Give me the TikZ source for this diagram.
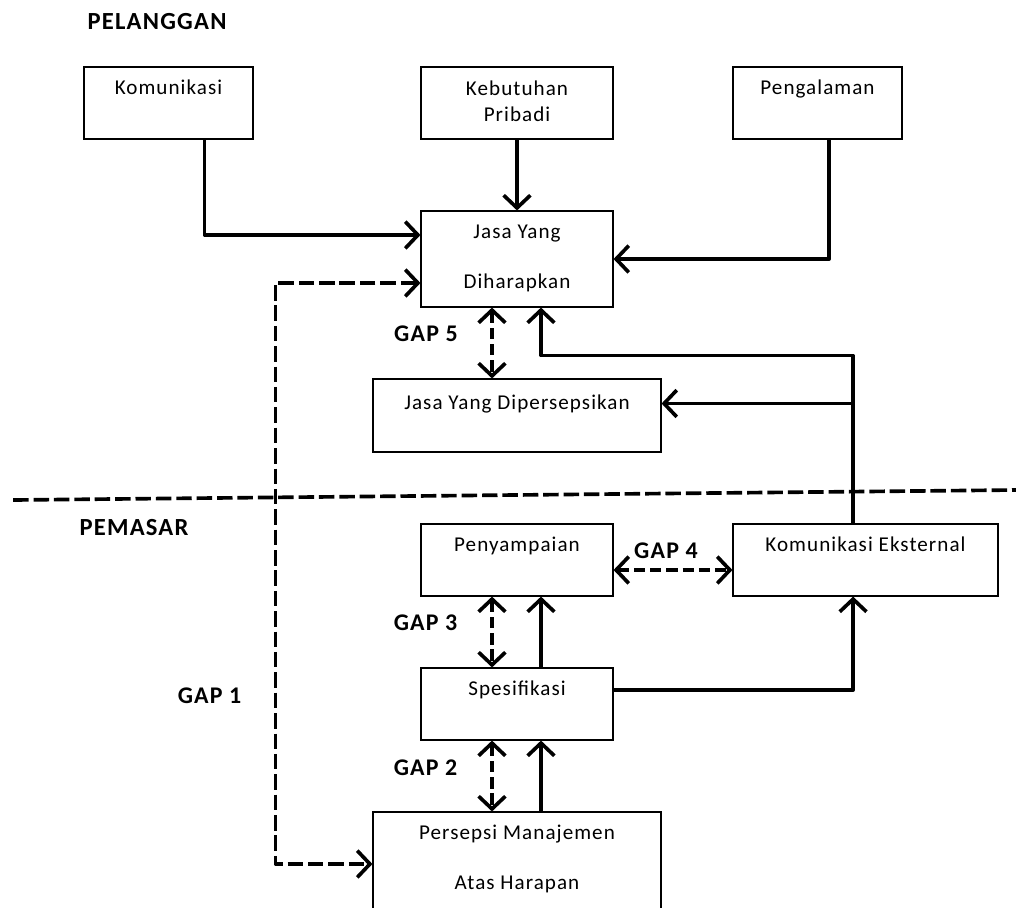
\documentclass[tikz,border=0pt]{standalone}
\usepackage{fontspec}
\setmainfont{Carlito}[LetterSpace=5]
\usepackage{tikz}
\usetikzlibrary{arrows.meta}

\tikzset{
  box/.style={draw,line width=0.8pt,inner sep=0pt,minimum height=1.8cm},
  boxtext/.style={anchor=base,align=center,inner sep=0pt,font=\fontsize{15}{18.5}\selectfont},
  gaplabel/.style={inner sep=0pt,font=\fontsize{17}{20}\selectfont\bfseries},
  arr/.style={line width=2.6pt,line join=round,-{Straight Barb[length=9pt,width=19pt]}},
  dasharr/.style={arr,dash pattern=on 8pt off 3.5pt,{Straight Barb[length=9pt,width=19pt]}-{Straight Barb[length=9pt,width=19pt]}},
}

\begin{document}
\begin{tikzpicture}
\useasboundingbox (0,0) rectangle (25.4,-22.675);
\node[gaplabel,font=\fontsize{17.5}{20}\selectfont\bfseries] (pelanggan) at (3.925,-0.55) {PELANGGAN};
\node[gaplabel,font=\fontsize{17.5}{20}\selectfont\bfseries] (pemasar) at (3.35,-13.2) {PEMASAR};

% kotak pelanggan
\node[box,minimum width=4.225cm] (kom) at (4.2125,-2.575) {};
\node[box,minimum width=4.8cm] (keb) at (12.925,-2.575) {};
\node[box,minimum width=4.225cm] (pen) at (20.4375,-2.575) {};
\node[box,minimum width=4.8cm,minimum height=2.4cm] (harap) at (12.925,-6.475) {};
\node[box,minimum width=7.2cm,minimum height=1.825cm] (dipersepsi) at (12.925,-10.3875) {};
\node[boxtext] (komT) at ([yshift=-0.7cm]kom.north) {Komunikasi};
\node[boxtext] (kebT) at ([yshift=-1.37cm]keb.north) {Kebutuhan\\Pribadi};
\node[boxtext] (penT) at ([yshift=-0.7cm]pen.north) {Pengalaman};
\node[boxtext] (harapT) at ([yshift=-1.95cm]harap.north) {Jasa Yang\\[17pt]Diharapkan};
\node[boxtext] (dipersepsiT) at ([yshift=-0.78cm]dipersepsi.north) {Jasa Yang Dipersepsikan};

% kotak pemasar
\node[box,minimum width=4.8cm] (sampai) at (12.925,-14) {};
\node[box,minimum width=6.625cm] (eks) at (21.6375,-14) {};
\node[box,minimum width=4.8cm] (spek) at (12.925,-17.6) {};
\node[box,minimum width=7.2cm,minimum height=2.6cm] (manaj) at (12.925,-21.6) {};
\node[boxtext] (sampaiT) at ([yshift=-0.7cm]sampai.north) {Penyampaian};
\node[boxtext] (eksT) at ([yshift=-0.7cm]eks.north) {Komunikasi Eksternal};
\node[boxtext] (spekT) at ([yshift=-0.7cm]spek.north) {Spesifikasi};
\node[boxtext] (manajT) at ([yshift=-1.95cm]manaj.north) {Persepsi Manajemen\\[17pt]Atas Harapan};

% garis batas
\draw[line width=2.6pt,dash pattern=on 11pt off 3.5pt] (0.33,-12.5) -- (25.4,-12.25);

% panah
\draw[arr] ([xshift=0.9cm]kom.south) |- ([yshift=0.6cm]harap.west);
\draw[arr] (keb) -- (harap);
\draw[arr] ([xshift=0.29cm]pen.south) |- (harap.east);
\coordinate (eksN) at ([xshift=-0.31cm]eks.north);
\coordinate (dpE) at ([yshift=0.3cm]dipersepsi.east);
\draw[arr] (eksN) |- ([xshift=0.6cm,yshift=-1.2cm]harap.south) -- ([xshift=0.6cm]harap.south);
\draw[arr] (eksN |- dpE) -- (dpE);
\draw[arr] ([yshift=0.35cm]spek.east) -| ([xshift=-0.31cm]eks.south);
\draw[arr] ([xshift=0.6cm]spek.north) -- ([xshift=0.6cm]sampai.south);
\draw[arr] ([xshift=0.6cm]manaj.north) -- ([xshift=0.6cm]spek.south);

% gap
\draw[dasharr] ([xshift=-0.625cm]harap.south) -- ([xshift=-0.625cm]dipersepsi.north);
\draw[dasharr] ([yshift=-0.25cm]sampai.east) -- ([yshift=-0.25cm]eks.west);
\draw[dasharr] ([xshift=-0.625cm]sampai.south) -- ([xshift=-0.625cm]spek.north);
\draw[dasharr] ([xshift=-0.625cm]spek.south) -- ([xshift=-0.625cm]manaj.north);
\draw[dasharr,dash pattern=on 11pt off 3.5pt] ([yshift=-0.6cm]harap.west) -- ++(-3.625cm,0) |- (manaj.west);
\node[gaplabel] (gap5) at (10.65,-8.35) {GAP 5};
\node[gaplabel] (gap4) at (16.65,-13.775) {GAP 4};
\node[gaplabel] (gap3) at (10.64,-15.575) {GAP 3};
\node[gaplabel] (gap2) at (10.64,-19.2) {GAP 2};
\node[gaplabel] (gap1) at (5.24,-17.4) {GAP 1};
\end{tikzpicture}
\end{document}
